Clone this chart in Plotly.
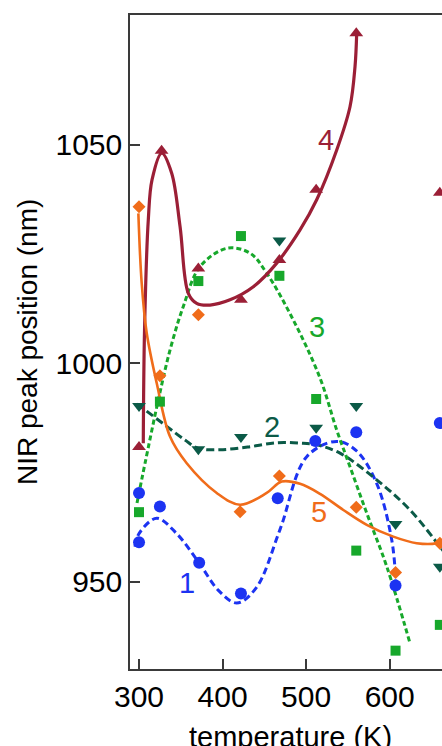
import plotly.graph_objects as go

# Measured NIR peak positions (nm) versus temperature (K) for five samples
temp_1 = [300, 300, 325, 372, 422, 466, 511, 560, 607, 660]
peak_1 = [959.0, 970.3, 967.2, 954.3, 947.3, 969.1, 982.2, 984.2, 949.1, 986.3]

temp_2 = [300, 371, 422, 468, 512, 560, 607, 660]
peak_2 = [990.2, 980.3, 983.1, 1028.1, 985.2, 990.2, 963.2, 953.4]

temp_3 = [300, 325, 371, 422, 468, 512, 560, 607, 660]
peak_3 = [965.9, 991.2, 1018.8, 1029.1, 1020.0, 991.8, 957.1, 934.2, 940.1]

temp_4 = [300, 327, 371, 422, 468, 512, 560, 660]
peak_4 = [980.8, 1048.6, 1021.7, 1014.5, 1023.6, 1039.7, 1075.5, 1039.0]

temp_5 = [300, 325, 371, 421, 468, 560, 607, 660]
peak_5 = [1035.8, 997.1, 1011.1, 966.0, 974.2, 967.0, 952.1, 958.8]

# Smoothed guide-to-the-eye curves
fit_t_1 = [295.2, 300.0, 321.2, 345.0, 371.8, 395.0, 416.9, 440.0, 468.7, 500.7, 536.6, 560.0, 584.4, 602.4, 607.2]
fit_y_1 = [958.0, 961.0, 964.5, 961.0, 954.3, 948.0, 945.1, 948.5, 961.9, 978.6, 982.1, 980.0, 972.5, 959.6, 950.4]

fit_t_2 = [297.6, 330.0, 355.0, 371.0, 396.9, 430.0, 464.8, 492.7, 512.6, 540.5, 584.4, 624.3, 660.2, 670.0]
fit_y_2 = [990.7, 986.0, 982.4, 980.5, 980.2, 980.8, 981.8, 981.7, 981.3, 979.4, 973.3, 966.4, 958.0, 955.5]

fit_t_3 = [297.6, 300.0, 307.2, 323.1, 337.1, 353.0, 373.0, 405.0, 432.8, 452.8, 484.6, 516.6, 536.6, 552.5, 572.5, 596.4, 624.3]
fit_y_3 = [968.0, 970.3, 977.1, 991.6, 1003.0, 1013.0, 1022.1, 1026.3, 1025.2, 1020.6, 1009.9, 996.6, 984.7, 976.3, 965.7, 953.5, 935.9]

fit_t_4 = [305.1, 306.6, 311.1, 315.6, 327.2, 339.1, 349.1, 359.0, 369.0, 385.0, 408.9, 436.8, 464.8, 492.7, 512.6, 536.6, 552.5, 558.5, 560.5]
fit_y_4 = [981.7, 1007.6, 1032.8, 1042.0, 1048.1, 1043.5, 1031.3, 1016.0, 1013.7, 1013.3, 1014.5, 1017.5, 1022.9, 1030.5, 1037.4, 1048.8, 1058.7, 1067.9, 1075.5]

fit_t_5 = [299.2, 303.2, 309.2, 321.2, 337.1, 357.1, 393.0, 420.9, 452.8, 470.8, 492.7, 516.6, 544.5, 572.5, 604.3, 632.3, 656.2, 670.0]
fit_y_5 = [1034.3, 1018.3, 1006.9, 995.4, 983.2, 977.1, 970.3, 967.6, 970.3, 972.9, 972.4, 970.1, 966.4, 963.0, 960.3, 958.8, 958.8, 960.0]

# Curve labels
label_text = ["1", "2", "3", "4", "5"]
label_t = [358.0, 458.8, 512.6, 523.4, 515.4]
label_y = [949.8, 985.5, 1008.2, 1051.0, 966.0]

x_ticks = [300, 400, 500, 600]
y_ticks = [950, 1000, 1050]

colors = ["#1c33f2", "#0b5a47", "#17a82b", "#9b1f36", "#f06c1a"]
symbols = ["circle", "triangle-down", "square", "triangle-up", "diamond"]
sizes = [12, 12, 10, 12, 10]
dashes = ["7px,4px", "8px,4px", "5px,3px", "solid", "solid"]
widths = [3, 3, 3, 3.2, 2.6]

FONT = "Liberation Sans, Arial"

fits = [(fit_t_1, fit_y_1), (fit_t_2, fit_y_2), (fit_t_3, fit_y_3),
        (fit_t_4, fit_y_4), (fit_t_5, fit_y_5)]
points = [(temp_1, peak_1), (temp_2, peak_2), (temp_3, peak_3),
          (temp_4, peak_4), (temp_5, peak_5)]

fig = go.Figure()

for (ft, fy), c, d, w in zip(fits, colors, dashes, widths):
    fig.add_trace(go.Scatter(
        x=ft, y=fy, mode="lines",
        line=dict(color=c, dash=d, width=w, shape="spline", smoothing=1.0),
        hoverinfo="skip", cliponaxis=True,
    ))

for (pt, py), c, s, sz in zip(points, colors, symbols, sizes):
    fig.add_trace(go.Scatter(
        x=pt, y=py, mode="markers",
        marker=dict(color=c, symbol=s, size=sz, line=dict(width=0)),
        cliponaxis=False,
    ))

for txt, t, y, c in zip(label_text, label_t, label_y, colors):
    fig.add_annotation(x=t, y=y, text=txt, showarrow=False,
                       font=dict(size=29, color=c, family=FONT),
                       xanchor="center", yanchor="middle")

# Axis titles
fig.add_annotation(xref="paper", yref="paper", x=0.513, y=-0.104,
                   text="temperature (K)", showarrow=False,
                   font=dict(size=29, color="#000000", family=FONT),
                   xanchor="center", yanchor="middle")
fig.add_annotation(xref="paper", yref="paper", x=-0.33, y=0.5,
                   text="NIR peak position (nm)", showarrow=False, textangle=-90,
                   font=dict(size=28, color="#000000", family=FONT),
                   xanchor="center", yanchor="middle")

axis_common = dict(
    showline=True, linecolor="#3a3a3a", linewidth=1.5,
    ticks="inside", ticklen=10, tickwidth=1.5, tickcolor="#3a3a3a",
    showgrid=False, zeroline=False,
    tickfont=dict(size=30, color="#000000", family=FONT),
)

fig.update_layout(
    width=442, height=746,
    margin=dict(l=130, r=0, t=15, b=77),
    paper_bgcolor="white", plot_bgcolor="white",
    showlegend=False,
    xaxis=dict(range=[289.2, 662.6], tickvals=x_ticks, mirror=True, **axis_common),
    yaxis=dict(range=[930.0, 1079.7], tickvals=y_ticks, mirror=False, **axis_common),
)

fig.write_html("out.html")
